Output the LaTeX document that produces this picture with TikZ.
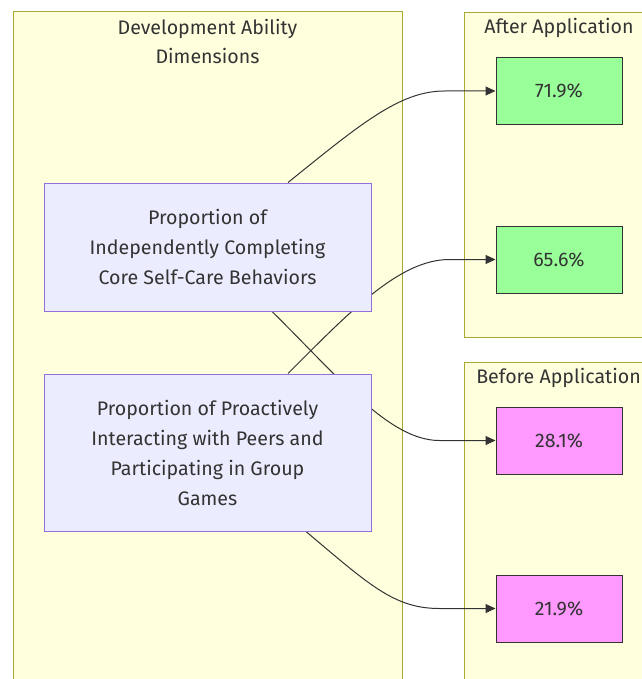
\documentclass[tikz,border=0pt]{standalone}
\usepackage{fontspec}
\setmainfont{Fira Sans}
\usepackage{xcolor}
\usepackage{tikz}
\usetikzlibrary{arrows.meta,calc,positioning}

\definecolor{clusterfill}{HTML}{FFFFDE}
\definecolor{clusterline}{HTML}{AAAA33}
\definecolor{dimfill}{HTML}{ECECFF}
\definecolor{dimline}{HTML}{9370DB}
\definecolor{afterfill}{HTML}{99FF99}
\definecolor{beforefill}{HTML}{FF99FF}
\definecolor{ink}{HTML}{333333}

\pgfdeclarelayer{background}
\pgfdeclarelayer{edges}
\pgfsetlayers{background,edges,main}

\tikzset{
  cluster/.style={draw=clusterline, fill=clusterfill, line width=1pt},
  title/.style={text=ink, font=\fontsize{19.6}{29}\selectfont, align=center},
  dimbox/.style={draw=dimline, fill=dimfill, line width=1pt, text=ink,
    font=\fontsize{19.6}{30}\selectfont, align=center,
    minimum width=327pt, inner sep=0pt},
  valbox/.style={draw=ink, line width=1pt, text=ink,
    font=\fontsize{19.6}{24}\selectfont,
    minimum width=126pt, minimum height=67pt, inner sep=0pt},
  flow/.style={draw=ink, line width=1pt, -{Triangle[length=10pt,width=9pt]}}
}

\begin{document}
\begin{tikzpicture}[x=1pt,y=-1pt]
    \clip (0,0) rectangle (641,679);

    % clusters
    \begin{pgfonlayer}{background}
        \fill[white] (0,0) rectangle (641,679);
        \draw[cluster] (13,12) rectangle (402,720);
        \draw[cluster] (464,13) rectangle (660,337);
        \draw[cluster] (464,362) rectangle (660,720);
    \end{pgfonlayer}
    \node[title] (tdim) at (207.5,41.5) {Development Ability\\Dimensions};
    \node[title] (tafter) at (559,28) {After Application};
    \node[title] (tbefore) at (558.5,378) {Before Application};

    % dimensions
    \node[dimbox, minimum height=128pt] (self) at (207.5,247)
        {Proportion of\\Independently Completing\\Core Self-Care Behaviors};
    \node[dimbox, minimum height=157pt] (peer) at (207.5,452.5)
        {Proportion of Proactively\\Interacting with Peers and\\Participating in Group\\Games};

    % values
    \node[valbox, fill=afterfill] (after1) at (559,91) {71.9\%};
    \node[valbox, fill=afterfill] (after2) at (559,259.5) {65.6\%};
    \node[valbox, fill=beforefill] (before1) at (559,440.5) {28.1\%};
    \node[valbox, fill=beforefill] (before2) at (559,608.5) {21.9\%};

    % edges
    \begin{pgfonlayer}{edges}
        \draw[flow] ($(self.north)+(80.5,0)$) .. controls +(72,-58) and +(-45,0) .. ($(after1.west)+(-51,0)$) -- (after1.west);
        \draw[flow] ($(self.south)+(64.5,0)$) .. controls +(68,67) and +(-50,0) .. ($(before1.west)+(-56,0)$) -- (before1.west);
        \draw[flow] ($(peer.north)+(80.5,0)$) .. controls +(62,-62) and +(-50,0) .. ($(after2.west)+(-46,0)$) -- (after2.west);
        \draw[flow] ($(peer.south)+(98.5,0)$) .. controls +(64,54) and +(-45,0) .. ($(before2.west)+(-56,0)$) -- (before2.west);
    \end{pgfonlayer}
\end{tikzpicture}
\end{document}
